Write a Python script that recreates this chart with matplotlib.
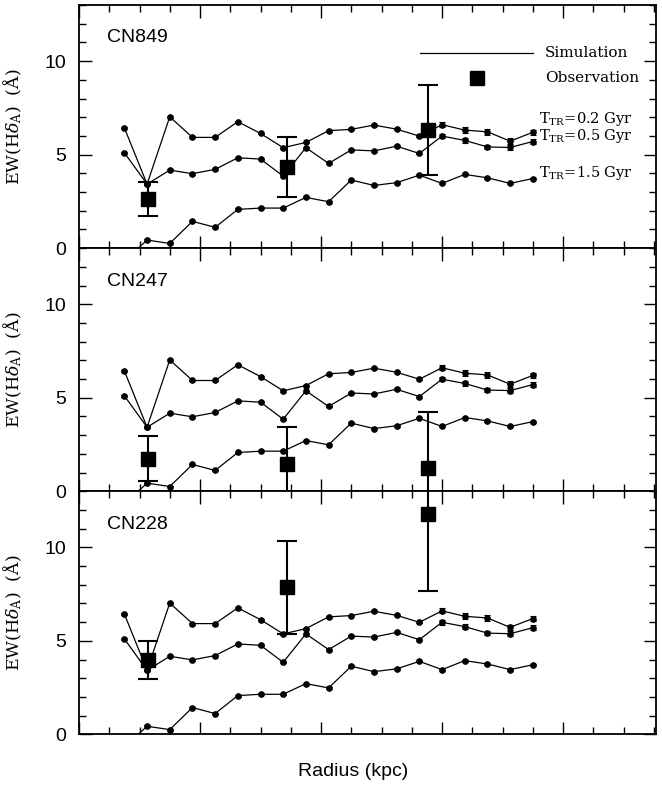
import matplotlib
matplotlib.use("Agg")
import matplotlib.pyplot as plt
from matplotlib.ticker import MultipleLocator, FixedLocator

plt.rcParams["mathtext.fontset"] = "dejavuserif"

# simulated radial profiles (same curves in every panel)
radius = [0.375, 0.5625, 0.75, 0.9375, 1.125, 1.3125, 1.5, 1.6875, 1.875, 2.0625,
          2.25, 2.4375, 2.625, 2.8125, 3.0, 3.1875, 3.375, 3.5625, 3.75]
sim_02 = [6.43, 3.42, 7.02, 5.92, 5.92, 6.76, 6.13, 5.37, 5.65, 6.28,
          6.35, 6.58, 6.36, 5.99, 6.60, 6.31, 6.22, 5.72, 6.19]
sim_02_err = [0.05, 0.05, 0.05, 0.05, 0.05, 0.05, 0.05, 0.05, 0.05, 0.05,
              0.05, 0.05, 0.05, 0.05, 0.13, 0.15, 0.15, 0.15, 0.15]
sim_05 = [5.10, 3.42, 4.17, 3.98, 4.21, 4.83, 4.76, 3.85, 5.37, 4.53,
          5.25, 5.20, 5.45, 5.06, 5.99, 5.76, 5.41, 5.38, 5.70]
sim_05_err = [0.05, 0.05, 0.05, 0.05, 0.05, 0.05, 0.05, 0.05, 0.05, 0.05,
              0.05, 0.05, 0.05, 0.05, 0.12, 0.13, 0.12, 0.14, 0.14]
sim_15 = [-0.68, 0.43, 0.25, 1.43, 1.11, 2.07, 2.14, 2.14, 2.71, 2.48,
          3.64, 3.35, 3.50, 3.90, 3.46, 3.94, 3.76, 3.46, 3.72]
sim_15_err = [0.05] * 19

# observations
obs_radius = [0.57, 1.72, 2.88]
clusters = ["CN849", "CN247", "CN228"]
obs_ew = [[2.60, 4.35, 6.31],
          [1.73, 1.46, 1.23],
          [3.97, 7.86, 11.76]]
obs_err = [[0.91, 1.61, 2.40],
           [1.21, 1.96, 3.03],
           [1.00, 2.50, 4.08]]

sim_labels = [r"T$_{\rm TR}$=0.2 Gyr", r"T$_{\rm TR}$=0.5 Gyr", r"T$_{\rm TR}$=1.5 Gyr"]
sim_label_y = [6.9, 5.99, 4.03]

serif = "DejaVu Serif"
sans = "Liberation Sans"

fig = plt.figure(figsize=(6.62, 7.85), dpi=100)
left, width = 79 / 662, 576.5 / 662
bot, h = 1 - 734.3 / 785, 243.1 / 785

for i, name in enumerate(clusters):
    ax = fig.add_axes([left, bot + (2 - i) * h, width, h])
    for vals, errs in [(sim_02, sim_02_err), (sim_05, sim_05_err), (sim_15, sim_15_err)]:
        ax.errorbar(radius, vals, yerr=errs, fmt="-o", color="k", ms=3.8, lw=0.9,
                    elinewidth=0.8, capsize=2.5, capthick=0.8)
    ax.errorbar(obs_radius, obs_ew[i], yerr=obs_err[i], fmt="s", color="k", ms=10,
                elinewidth=1.5, capsize=7, capthick=1.5, zorder=5)

    ax.set_xlim(0, 4.764)
    ax.set_ylim(0, 13)
    ax.xaxis.set_major_locator(MultipleLocator(1))
    ax.xaxis.set_minor_locator(MultipleLocator(0.25))
    ax.yaxis.set_major_locator(FixedLocator([0, 5, 10]))
    ax.yaxis.set_minor_locator(MultipleLocator(1))
    ax.tick_params(which="both", direction="in", top=True, right=True, width=1.0)
    ax.tick_params(which="major", length=9)
    ax.tick_params(which="minor", length=5)
    ax.tick_params(axis="x", labelbottom=False)
    ax.tick_params(axis="y", labelsize=14, pad=9)
    for lab in ax.get_yticklabels():
        lab.set_family(sans)
    for s in ax.spines.values():
        s.set_linewidth(1.3)

    ax.text(0.229, 11.0, name, fontsize=14, family=sans, va="baseline")
    ax.set_ylabel("EW(H$\\delta_{\\rm A}$)  (Å)", fontsize=12.5, family=serif)
    ax.yaxis.set_label_coords(-0.095, 0.5)

    if i == 0:
        ax.plot([2.82, 3.75], [10.41, 10.41], color="k", lw=0.9)
        ax.plot([3.29], [9.07], "s", color="k", ms=10)
        ax.text(3.85, 10.41, "Simulation", fontsize=11, family=serif, va="center")
        ax.text(3.85, 9.07, "Observation", fontsize=11, family=serif, va="center")
        for lab, yy in zip(sim_labels, sim_label_y):
            ax.text(3.80, yy, lab, fontsize=10.5, family=serif, va="center")

fig.text(353 / 662, 1 - 772 / 785, "Radius (kpc)", fontsize=14, family=sans,
         ha="center", va="center")

fig.savefig("out.png", dpi=100)
